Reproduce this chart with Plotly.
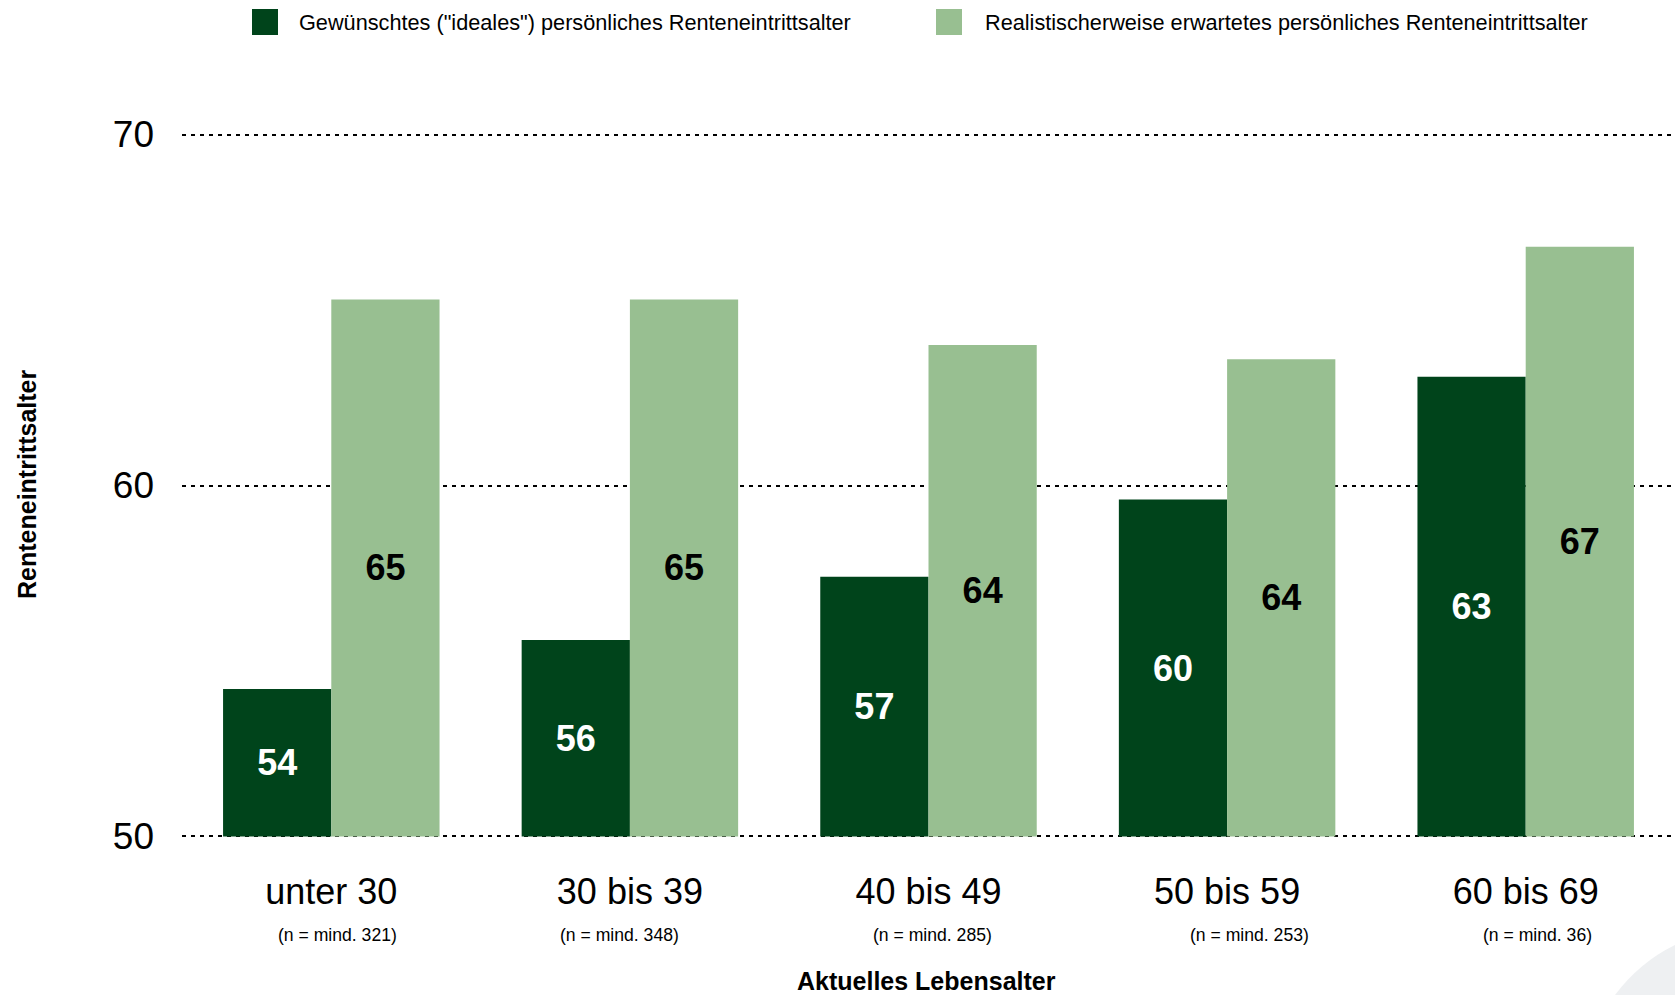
import plotly.graph_objects as go

# ---------------- data ----------------
categories = ["unter 30", "30 bis 39", "40 bis 49", "50 bis 59", "60 bis 69"]
sample_sizes = ["(n = mind. 321)", "(n = mind. 348)", "(n = mind. 285)",
                "(n = mind. 253)", "(n = mind. 36)"]
ideal_age = [54.2, 55.6, 57.4, 59.6, 63.1]
expected_age = [65.3, 65.3, 64.0, 63.6, 66.8]
series_names = ['Gewünschtes ("ideales") persönliches Renteneintrittsalter',
                "Realistischerweise erwartetes persönliches Renteneintrittsalter"]
y_ticks = [50, 60, 70]
y_base = 50

# ---------------- styling / layout ----------------
DARK = "#00441b"
LIGHT = "#98bf91"
SANS = "Liberation Sans, Arial, sans-serif"
NARROW = "Liberation Sans Narrow, Arial Narrow, Liberation Sans, sans-serif"

W, H = 1675, 995
ML, MR, MT, MB = 182, 0, 131, 155
PW, PH = W - ML - MR, H - MT - MB


def px(x):
    return (x - ML) / PW


def py(y):
    return (H - MB - y) / PH


n_label_shift = [6, -10, 4, 22, 12]

fig = go.Figure()
for vals, name, col, tcol in [(ideal_age, series_names[0], DARK, "white"),
                              (expected_age, series_names[1], LIGHT, "black")]:
    fig.add_trace(go.Bar(
        x=categories, y=[v - y_base for v in vals], base=y_base,
        name=name, marker_color=col, marker_line_width=0,
        text=[f"{v:.0f}" for v in vals], customdata=vals,
        hovertemplate="%{x}: %{customdata}<extra></extra>",
        textposition="inside", insidetextanchor="middle", textangle=0,
        textfont=dict(family=SANS, size=36, color=tcol, weight="bold"),
        showlegend=False))

annotations = []
for i, (c, n) in enumerate(zip(categories, sample_sizes)):
    annotations.append(dict(x=c, xref="x", y=py(935), yref="paper", text=n,
                            showarrow=False, xshift=n_label_shift[i],
                            xanchor="center", yanchor="middle",
                            font=dict(family=NARROW, size=17.6, color="black")))

# axis titles
annotations.append(dict(x=px(926), y=py(981), xref="paper", yref="paper",
                        text="<b>Aktuelles Lebensalter</b>", showarrow=False,
                        xanchor="center", yanchor="middle",
                        font=dict(family=SANS, size=25, color="black")))
annotations.append(dict(x=px(27), y=py(485), xref="paper", yref="paper",
                        text="<b>Renteneintrittsalter</b>", showarrow=False,
                        textangle=-90, xanchor="center", yanchor="middle",
                        font=dict(family=SANS, size=25, color="black")))

# custom legend
shapes = []
legend_items = [(252, 297, DARK), (936, 983, LIGHT)]
for (sx, tx, col), name in zip(legend_items, series_names):
    shapes.append(dict(type="rect", xref="paper", yref="paper",
                       x0=px(sx), x1=px(sx + 26), y0=py(35), y1=py(9),
                       fillcolor=col, line=dict(width=0)))
    annotations.append(dict(x=px(tx), y=py(22), xref="paper", yref="paper",
                            text=name, showarrow=False, xanchor="left",
                            yanchor="middle",
                            font=dict(family=NARROW, size=21.7, color="black")))

# faint watermark arc in the bottom-right corner
shapes.append(dict(type="path", xref="paper", yref="paper",
                   path=(f"M {px(1615)},{py(995)} Q {px(1640)},{py(962)} {px(1675)},{py(945)} "
                         f"L {px(1675)},{py(995)} Z"),
                   fillcolor="#eef0f2", line=dict(width=0), layer="below"))

fig.update_layout(
    width=W, height=H,
    margin=dict(l=ML, r=MR, t=MT, b=MB, pad=0),
    paper_bgcolor="white", plot_bgcolor="white",
    barmode="group", bargap=0.275, bargroupgap=0,
    font=dict(family=SANS, color="black"),
    annotations=annotations, shapes=shapes,
    xaxis=dict(type="category", range=[-0.5, 4.5], showgrid=False,
               showline=False, zeroline=False, ticks="",
               tickfont=dict(family=SANS, size=36, color="black"),
               ticklabelstandoff=27),
    yaxis=dict(range=[49.9, 70.1], tickvals=y_ticks, showgrid=True,
               gridcolor="black", gridwidth=2, griddash="4px,5px",
               zeroline=False, showline=False, ticks="",
               tickfont=dict(family=SANS, size=37, color="black"),
               ticklabelstandoff=27),
)

fig.write_html("out.html", config={"displayModeBar": False},
               post_script="document.body.style.margin='0';")
